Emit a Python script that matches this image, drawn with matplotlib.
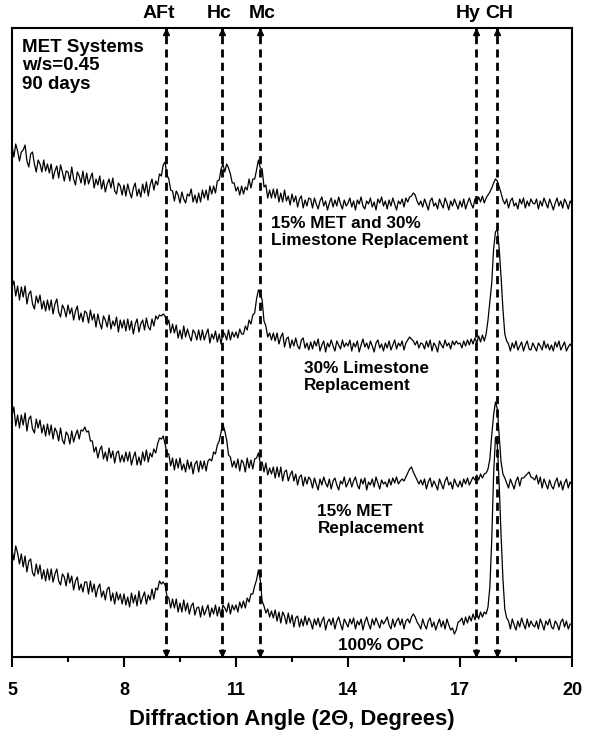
import numpy as np
import matplotlib
matplotlib.use("Agg")
import matplotlib.pyplot as plt
from matplotlib.transforms import blended_transform_factory

plt.rcParams['font.family'] = ['Liberation Sans', 'DejaVu Sans']
plt.rcParams['font.weight'] = 'bold'

# ---------------- data (relative intensity, one row per degree, 0.05 deg step) -------------
two_theta_start, two_theta_end, n_points = 5.0, 20.0, 301

met_ls = [
    59, 48, 61, 54, 44, 53, 55, 60, 44, 38, 51, 53, 41, 33, 45, 41, 33, 45, 34, 41,   # 5
    32, 41, 26, 34, 39, 27, 40, 33, 24, 34, 33, 24, 38, 26, 20, 33, 29, 22, 34, 20,   # 6
    32, 21, 27, 32, 17, 26, 20, 29, 16, 25, 13, 21, 26, 17, 27, 14, 11, 22, 19, 10,   # 7
    20, 9, 21, 13, 7, 17, 22, 9, 16, 8, 21, 12, 23, 9, 20, 26, 15, 24, 20, 31,        # 8
    29, 40, 43, 30, 26, 15, 14, 4, 14, 10, 2, 13, 6, 2, 11, 9, 16, 3, 10, 2,          # 9
    12, 3, 15, 7, 15, 5, 19, 11, 19, 12, 24, 25, 36, 41, 33, 41, 37, 31, 22, 22,      # 10
    14, 18, 10, 19, 11, 18, 15, 26, 17, 26, 26, 35, 45, 37, 36, 18, 20, 7, 15, 7,     # 11
    16, 7, 16, 3, 12, 3, 15, 4, 9, 0, 11, 3, 9, -2, 6, 9, -3, 5, -1, 7,               # 12
    6, -3, 7, 1, -4, 4, 8, -1, 4, -5, 2, 7, -2, 5, -1, 8, 1, -4, 5, -1,               # 13
    2, 7, -2, 4, -5, 5, 1, 8, -1, -4, 4, 1, 7, -2, 3, -5, 6, 2, 8, -1,                # 14
    4, -4, 5, -1, 7, 1, -5, 4, 1, 6, -2, 7, 3, 8, 9, 12, 10, 4, 0, 4,                 # 15
    -2, 6, 1, -5, 4, 7, -1, 2, -4, 6, 1, -3, 7, 2, -5, 4, -1, 6, 1, -4,               # 16
    4, -2, 6, -4, 2, 7, 1, -3, 6, 2, 8, 3, 9, 2, 7, 10, 13, 17, 22, 26,               # 17
    24, 18, 12, 5, 1, 6, -3, 4, 7, -1, 2, -4, 6, 1, 7, -3, 4, -1, 6, 2,               # 18
    1, 6, -4, 4, -1, 7, 2, -3, 6, 1, -5, 2, 7, -1, 4, -3, 6, 2, -4, 4,                # 19
    1,
]

limestone = [
    60, 66, 51, 61, 47, 60, 50, 61, 43, 53, 56, 43, 38, 51, 44, 52, 38, 46, 36, 47,
    37, 47, 33, 43, 48, 35, 30, 42, 38, 30, 42, 33, 39, 27, 36, 41, 27, 34, 25, 36,
    34, 24, 37, 27, 33, 20, 33, 24, 18, 31, 27, 20, 32, 18, 26, 21, 30, 15, 27, 19,
    27, 16, 28, 17, 26, 13, 23, 28, 15, 23, 27, 17, 29, 20, 17, 28, 21, 31, 28, 32,
    31, 33, 31, 22, 27, 14, 23, 14, 22, 9, 17, 8, 21, 10, 18, 11, 6, 17, 14, 7,
    17, 7, 17, 7, 13, 18, 4, 13, 8, 16, 5, 13, 3, 15, 13, 7, 17, 7, 15, 10,
    15, 9, 18, 13, 13, 21, 17, 27, 23, 32, 34, 48, 57, 53, 47, 26, 21, 10, 14, 7,
    14, 6, 14, 3, 10, 14, 0, 8, 10, -1, 7, 1, 9, 1, -2, 7, 9, -1, 4, -3,
    5, -2, 6, 1, 8, -4, 2, 6, -5, 4, 0, 7, 1, -4, 6, 2, -2, 7, 0, 4,
    1, 7, -4, 4, 0, 6, -5, 2, 8, 0, 4, -2, 6, 1, -5, 4, 7, -1, 3, -4,
    4, -1, 6, -3, 2, 7, -2, 4, 1, 6, -3, 4, 7, 10, 8, 6, 2, 6, -1, 4,
    3, -2, 6, 0, 7, -4, 4, 1, -5, 6, 2, -1, 7, 1, 4, -2, 6, 2, 6, 3,
    4, -1, 6, 1, 7, 2, 8, 3, 9, 4, 11, 5, 12, 6, 13, 27, 45, 64, 98, 115,
    118, 98, 70, 38, 13, 6, 3, -4, 4, -1, 6, -3, 1, 5, -4, 2, 6, -2, -3, 4,
    0, -4, 4, 1, -3, 6, -1, 3, -3, 2, -4, 5, 0, 6, -3, 1, 5, -4, 0, 3,
    0,
]

met = [
    69, 78, 59, 70, 57, 70, 60, 72, 54, 66, 69, 56, 52, 66, 57, 65, 52, 60, 49, 61,
    50, 60, 46, 57, 53, 44, 57, 45, 41, 53, 50, 41, 54, 43, 50, 55, 46, 55, 54, 58,
    53, 54, 44, 44, 33, 38, 27, 35, 39, 26, 33, 24, 37, 27, 34, 22, 32, 34, 23, 30,
    23, 33, 24, 33, 20, 28, 33, 20, 28, 20, 33, 24, 35, 23, 32, 28, 36, 32, 41, 47,
    46, 49, 41, 32, 31, 19, 27, 15, 26, 17, 27, 15, 21, 13, 25, 16, 23, 11, 21, 24,
    13, 24, 16, 24, 14, 24, 26, 24, 33, 31, 40, 44, 53, 61, 54, 45, 30, 28, 18, 24,
    17, 26, 14, 25, 22, 13, 27, 17, 25, 16, 26, 27, 32, 22, 23, 13, 22, 10, 17, 11,
    18, 7, 18, 8, 18, 4, 13, 15, 4, 10, 14, 4, 11, 0, 8, 10, -1, 8, 1, 8,
    5, -3, 7, 1, -5, 6, 0, 8, 2, -2, 6, -4, 4, 7, 0, -5, 4, 1, 8, -2,
    2, 7, -2, 4, 8, 0, -4, 6, 1, 7, -5, 3, 0, 6, -2, 8, 2, -4, 5, 1,
    3, -2, 6, 0, 7, 2, 8, 1, 4, 6, 4, 8, 12, 16, 18, 13, 9, 5, 1, 5,
    0, 6, -4, 3, 7, -2, 4, 0, -5, 6, 1, -4, 4, 8, 0, 3, -4, 6, 1, -2,
    4, -2, 6, 1, 7, 0, 4, 8, 5, 10, 5, 11, 7, 11, 12, 16, 26, 50, 70, 83,
    76, 50, 23, 11, 7, 2, -3, 6, 1, -4, 4, 8, -1, 7, 7, 9, 11, 13, 8, 7,
    5, 10, 1, 8, -3, 6, 1, -4, 5, -1, -4, 3, 7, -2, 4, -5, 2, 6, -3, 3,
    0,
]

opc = [
    75, 65, 79, 72, 61, 71, 58, 69, 53, 64, 66, 52, 49, 61, 51, 60, 46, 55, 44, 56,
    45, 56, 43, 51, 56, 44, 40, 51, 48, 39, 52, 42, 49, 35, 44, 48, 35, 41, 33, 43,
    43, 31, 44, 33, 41, 28, 37, 41, 28, 34, 25, 36, 38, 24, 32, 21, 33, 25, 31, 21,
    31, 20, 28, 18, 32, 22, 30, 19, 34, 21, 28, 33, 21, 30, 25, 36, 26, 37, 35, 44,
    41, 43, 40, 29, 27, 17, 26, 17, 26, 13, 22, 13, 25, 14, 22, 11, 19, 22, 10, 17,
    18, 8, 19, 10, 15, 20, 8, 17, 11, 20, 9, 18, 8, 20, 17, 13, 22, 11, 20, 15,
    20, 13, 23, 17, 24, 17, 27, 23, 31, 31, 39, 45, 55, 45, 24, 19, 12, 16, 8, 14,
    7, 15, 4, 13, 2, 13, 9, 1, 12, 2, 10, -2, 7, 9, -2, 6, -1, 9, 0, 7,
    3, -4, 6, 0, 7, -2, 4, 8, -5, 3, 6, 0, 7, -4, 4, 8, 1, -5, 6, 2,
    -2, 6, 1, 7, -4, 4, 0, 6, -5, 3, 8, 1, -4, 6, 0, 7, 2, -3, 5, 1,
    4, 8, 0, -4, 6, -2, 4, 7, 0, 6, -4, 4, 6, 2, 8, 11, 8, 3, 0, -4,
    6, 0, -4, 4, 7, -2, 3, -5, 1, 6, -2, 4, -4, 6, 0, -5, -3, -9, -5, 3,
    4, 7, 0, 8, 2, 9, 4, 11, 5, 12, 6, 13, 8, 13, 11, 18, 38, 85, 150, 188,
    180, 140, 90, 46, 16, 7, 4, -4, 6, 0, -5, 4, -2, 7, 1, -4, 6, -2, 4, 0,
    -2, 4, -4, 6, 1, -5, 4, 0, 6, -2, -4, 4, 1, -5, 3, 6, -2, 4, -4, 1,
    1,
]

trace_names = ["15% MET and 30%\nLimestone Replacement", "30% Limestone\nReplacement",
               "15% MET\nReplacement", "100% OPC"]
trace_values = [met_ls, limestone, met, opc]

peak_names = ["AFt", "Hc", "Mc", "Hy", "CH"]
peak_positions = [9.12, 10.62, 11.63, 17.42, 17.98]

x_ticks = [5, 8, 11, 14, 17, 20]

# ---------------- layout / style ----------------
trace_offsets = [452, 310, 172, 32]
y_top = 629
label_pos = [(11.93, 425), (12.83, 280), (13.18, 137), (13.72, 12)]
peak_label_x = [8.94, 10.55, 11.70, 17.21, 18.05]

W, H = 589, 738
fig = plt.figure(figsize=(W / 100, H / 100), dpi=100)
ax = fig.add_axes([12 / W, 81 / H, 560 / W, 629 / H])

x = np.linspace(two_theta_start, two_theta_end, n_points)
for vals, off in zip(trace_values, trace_offsets):
    ax.plot(x, np.asarray(vals) + off, color='black', lw=0.9, zorder=3)

for px in peak_positions:
    ax.plot([px, px], [0, y_top], color='black', lw=2.0, dashes=(2.9, 1.9), zorder=2)
    ax.plot([px], [y_top - 4], marker='^', color='black', ms=5, clip_on=False, zorder=4)
    ax.plot([px], [4], marker='v', color='black', ms=5, clip_on=False, zorder=4)

trans = blended_transform_factory(ax.transData, ax.transAxes)
for name, lx in zip(peak_names, peak_label_x):
    ax.text(lx, 1 + 14 / 629, name, transform=trans, ha='center', va='center',
            fontsize=14, fontweight='bold')

for name, (lx, ly) in zip(trace_names, label_pos):
    ax.text(lx, ly, name, ha='left', va='center', fontsize=12.3, fontweight='bold',
            linespacing=1.15)

ax.text(5.27, 591, "MET Systems\nw/s=0.45\n90 days", ha='left', va='center',
        fontsize=13.5, fontweight='bold', linespacing=1.12)

ax.set_xlim(5, 20)
ax.set_ylim(0, y_top)
ax.set_yticks([])
ax.set_xticks(x_ticks)
ax.set_xticks([6.5, 9.5, 12.5, 15.5, 18.5], minor=True)
ax.tick_params(axis='x', which='major', direction='out', length=7, width=1.5,
               labelsize=13, pad=11)
ax.tick_params(axis='x', which='minor', direction='out', length=3.5, width=1.5)
for lbl in ax.get_xticklabels():
    lbl.set_fontweight('bold')
for sp in ax.spines.values():
    sp.set_linewidth(1.5)
ax.set_xlabel("Diffraction Angle (2\u0398, Degrees)", fontsize=15.8, fontweight='bold',
              labelpad=7)

fig.savefig("out.png", dpi=100)
